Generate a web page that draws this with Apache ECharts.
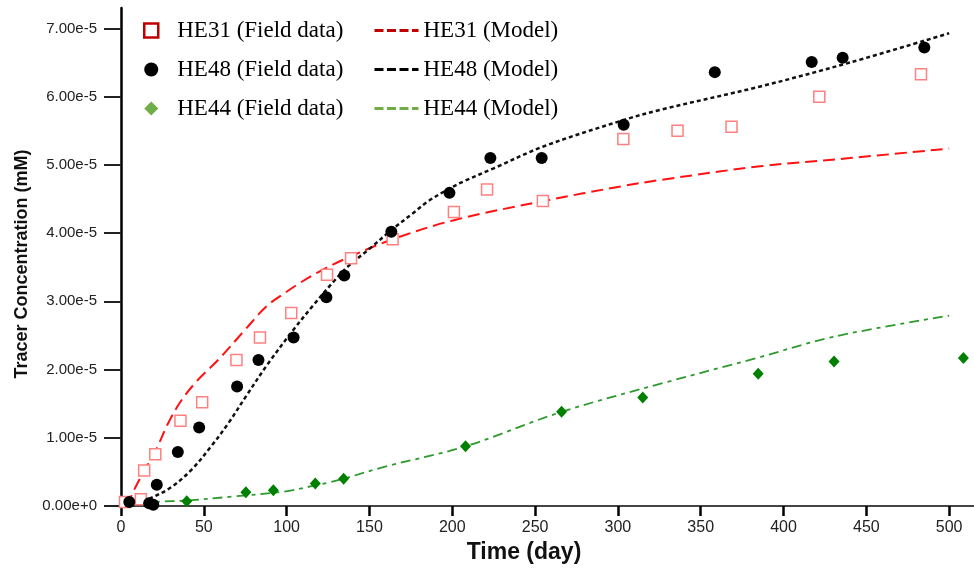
<!DOCTYPE html>
<html>
<head>
<meta charset="utf-8">
<script src="https://cdn.jsdelivr.net/npm/echarts@6/dist/echarts.min.js"></script>
<style>html,body{margin:0;padding:0;background:#fff}#c{width:974px;height:568px}</style>
</head>
<body>
<div id="c"></div>
<script>
// ---- data (days, concentration mM) ----
const he31FieldDay = [2.4, 12, 14, 20.7, 35.9, 49, 69.7, 83.9, 102.8, 124.4, 138.9, 164, 201, 221, 254.7, 303.3, 336, 368.6, 421.6, 483];
const he31FieldVal = [0.06e-5, 0.1e-5, 0.52e-5, 0.76e-5, 1.25e-5, 1.52e-5, 2.14e-5, 2.47e-5, 2.83e-5, 3.39e-5, 3.63e-5, 3.91e-5, 4.31e-5, 4.64e-5, 4.47e-5, 5.38e-5, 5.50e-5, 5.56e-5, 6.00e-5, 6.33e-5];

const he48FieldDay = [5, 17, 19.5, 21.6, 34.3, 47.2, 70.1, 83, 104.2, 124, 134.8, 163.2, 198.3, 223, 254, 303.5, 358.5, 417, 435.7, 485];
const he48FieldVal = [0.06e-5, 0.04e-5, 0.02e-5, 0.31e-5, 0.79e-5, 1.15e-5, 1.75e-5, 2.14e-5, 2.47e-5, 3.06e-5, 3.38e-5, 4.02e-5, 4.59e-5, 5.10e-5, 5.10e-5, 5.59e-5, 6.36e-5, 6.51e-5, 6.57e-5, 6.72e-5];

const he44FieldDay = [39.7, 75.4, 92, 117.3, 134.4, 208, 266, 315, 384.7, 430.5, 508.6];
const he44FieldVal = [0.07e-5, 0.2e-5, 0.23e-5, 0.33e-5, 0.40e-5, 0.875e-5, 1.38e-5, 1.59e-5, 1.94e-5, 2.12e-5, 2.17e-5];

const he31ModelDay = [3.5, 8, 14.3, 20.7, 28.4, 36.5, 46.5, 58.6, 74.8, 88, 100, 108, 120, 136, 164, 201, 255, 303, 326, 386, 440, 500];
const he31ModelVal = [0, 0.24e-5, 0.53e-5, 0.8e-5, 1.21e-5, 1.55e-5, 1.85e-5, 2.14e-5, 2.58e-5, 2.93e-5, 3.14e-5, 3.27e-5, 3.44e-5, 3.63e-5, 3.91e-5, 4.19e-5, 4.47e-5, 4.69e-5, 4.78e-5, 4.98e-5, 5.1e-5, 5.24e-5];

const he48ModelDay = [5, 10.3, 17.5, 30, 42.5, 54.6, 64.7, 75.8, 88, 104, 116, 128, 136.5, 150.5, 163, 176.7, 185, 198, 207, 225, 255, 303.7, 326, 386, 440, 500];
const he48ModelVal = [0, 0.04e-5, 0.11e-5, 0.27e-5, 0.53e-5, 0.88e-5, 1.21e-5, 1.62e-5, 2.06e-5, 2.58e-5, 2.94e-5, 3.28e-5, 3.5e-5, 3.78e-5, 4.04e-5, 4.3e-5, 4.46e-5, 4.65e-5, 4.76e-5, 4.95e-5, 5.27e-5, 5.66e-5, 5.81e-5, 6.15e-5, 6.5e-5, 6.93e-5];

const he44ModelDay = [12, 21.6, 39.7, 68, 98, 115, 126.4, 134.4, 160, 208, 266, 330, 384, 430, 500];
const he44ModelVal = [0.03e-5, 0.06e-5, 0.08e-5, 0.14e-5, 0.21e-5, 0.29e-5, 0.35e-5, 0.40e-5, 0.58e-5, 0.875e-5, 1.38e-5, 1.82e-5, 2.17e-5, 2.48e-5, 2.79e-5];

const xTicks = [0, 50, 100, 150, 200, 250, 300, 350, 400, 450, 500];
const yTicks = [0, 1e-5, 2e-5, 3e-5, 4e-5, 5e-5, 6e-5, 7e-5];

const names = ['HE31 (Field data)', 'HE48 (Field data)', 'HE44 (Field data)', 'HE31 (Model)', 'HE48 (Model)', 'HE44 (Model)'];

const zip = (a, b) => a.map((v, i) => [v, b[i]]);

const sans = "'Liberation Sans', Arial, sans-serif";
const serif = "'Liberation Serif', 'Times New Roman', serif";
const noSym = { color: 'rgba(0,0,0,0)', borderColor: 'rgba(0,0,0,0)', borderWidth: 0 };

const chart = echarts.init(document.getElementById('c'), null, { renderer: 'canvas' });
chart.setOption({
  animation: false,
  backgroundColor: '#fff',
  grid: { left: 121, right: 0, top: 8, bottom: 62, containLabel: false, outerBoundsMode: 'none' },
  legend: [
    {
      orient: 'vertical', left: 143, top: 19, padding: 0, itemGap: 16,
      itemWidth: 14, itemHeight: 14, selectedMode: false,
      textStyle: { fontFamily: serif, fontSize: 23, color: '#000', padding: [0, 0, 0, 14] },
      data: [
        { name: names[0], icon: 'rect', itemStyle: { color: '#fff', borderColor: '#c00000', borderWidth: 2.5 } },
        { name: names[1], icon: 'circle', itemStyle: { color: '#000', borderWidth: 0 } },
        { name: names[2], icon: 'diamond', itemStyle: { color: '#70ad47', borderWidth: 0 } }
      ]
    },
    {
      orient: 'vertical', left: 373, top: 19, padding: 0, itemGap: 16,
      itemWidth: 44, itemHeight: 14, selectedMode: false,
      textStyle: { fontFamily: serif, fontSize: 23, color: '#000' },
      data: [
        { name: names[3], itemStyle: noSym, lineStyle: { color: '#c00000', width: 3, type: [9, 3.5] } },
        { name: names[4], itemStyle: noSym, lineStyle: { color: '#000', width: 3, type: [9, 3.5] } },
        { name: names[5], itemStyle: noSym, lineStyle: { color: '#70ad47', width: 3, type: [9, 3.5] } }
      ]
    }
  ],
  xAxis: {
    type: 'value', min: 0, max: 515,
    name: 'Time (day)', nameLocation: 'middle', nameGap: 35,
    nameTextStyle: { fontFamily: sans, fontSize: 23, fontWeight: 'bold', color: '#111', padding: [0, 47, 0, 0] },
    axisLine: { show: true, onZero: false, lineStyle: { color: '#444', width: 2 } },
    axisTick: { show: true, inside: false, length: 10, customValues: xTicks, lineStyle: { color: '#000', width: 2.5 } },
    axisLabel: { customValues: xTicks, margin: 14, fontFamily: sans, fontSize: 16, color: '#222' },
    splitLine: { show: false }
  },
  yAxis: {
    type: 'value', min: 0, max: 7.3e-5,
    name: 'Tracer Concentration (mM)', nameLocation: 'middle', nameGap: 90, nameRotate: 90,
    nameTextStyle: { fontFamily: sans, fontSize: 18, fontWeight: 'bold', color: '#111', padding: [0, 14, 0, 0] },
    axisLine: { show: true, onZero: false, lineStyle: { color: '#000', width: 2.5 } },
    axisTick: { show: true, inside: false, length: 17, customValues: yTicks, lineStyle: { color: '#222', width: 2 } },
    axisLabel: { customValues: yTicks, margin: 24, fontFamily: sans, fontSize: 15, color: '#222',
      formatter: v => Number(v).toExponential(2) },
    splitLine: { show: false }
  },
  series: [
    { name: names[3], type: 'line', data: zip(he31ModelDay, he31ModelVal), smooth: 0.35, symbol: 'none', z: 2,
      itemStyle: { color: '#c00000' },
      lineStyle: { color: '#ff1111', width: 2, type: [12, 6] } },
    { name: names[4], type: 'line', data: zip(he48ModelDay, he48ModelVal), smooth: 0.35, symbol: 'none', z: 2,
      itemStyle: { color: '#000' },
      lineStyle: { color: '#111', width: 2.5, type: [4, 3] } },
    { name: names[5], type: 'line', data: zip(he44ModelDay, he44ModelVal), smooth: 0.35, symbol: 'none', z: 2,
      itemStyle: { color: '#70ad47' },
      lineStyle: { color: '#2e9a2e', width: 1.8, type: [10, 5, 4, 5] } },
    { name: names[0], type: 'scatter', data: zip(he31FieldDay, he31FieldVal), symbol: 'rect', symbolSize: 11, z: 5,
      itemStyle: { color: '#fff', borderColor: '#ff8080', borderWidth: 1.5, opacity: 1 } },
    { name: names[1], type: 'scatter', data: zip(he48FieldDay, he48FieldVal), symbol: 'circle', symbolSize: 12, z: 6,
      itemStyle: { color: '#000', opacity: 1 } },
    { name: names[2], type: 'scatter', data: zip(he44FieldDay, he44FieldVal), symbol: 'diamond', symbolSize: [11, 12], z: 6,
      itemStyle: { color: '#008000', opacity: 1 } }
  ]
});
</script>
</body>
</html>
